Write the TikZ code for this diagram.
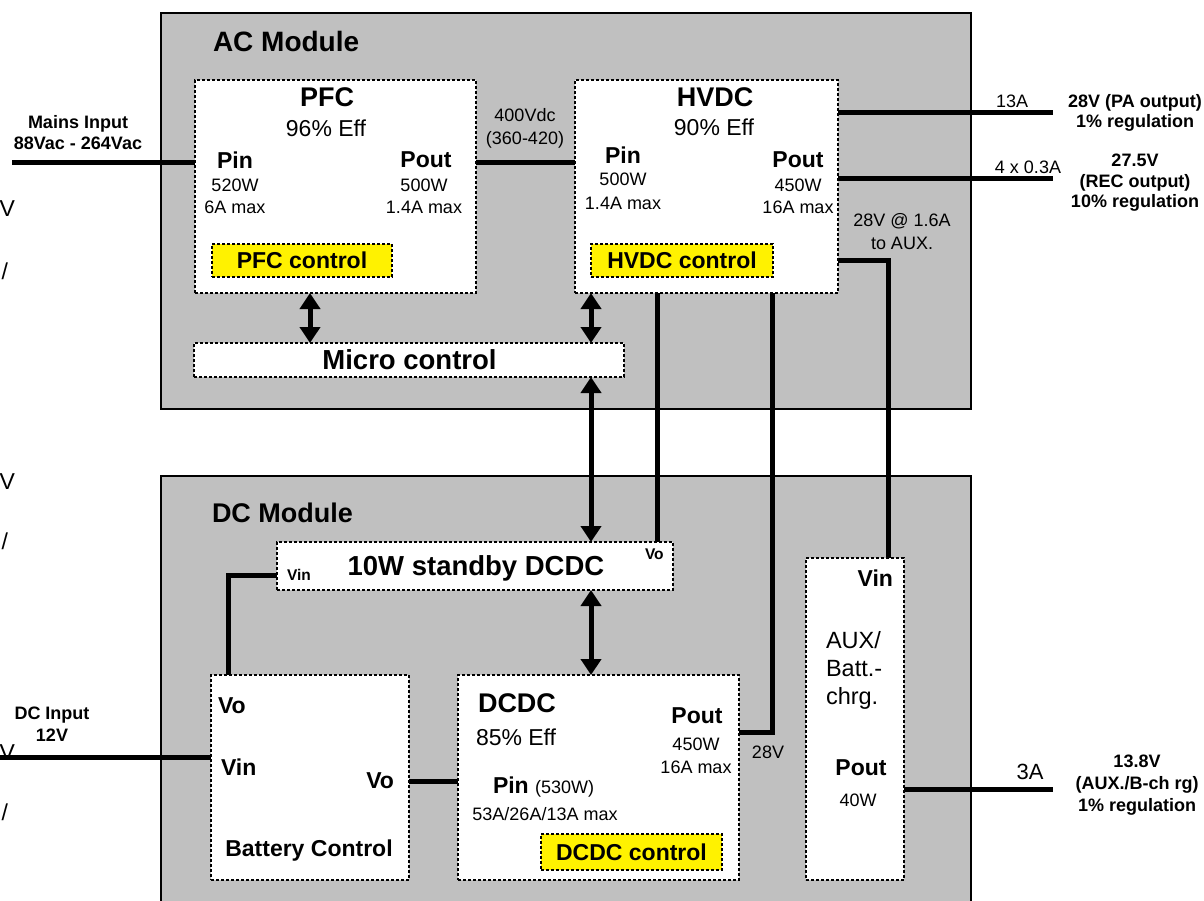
\documentclass[tikz,border=0pt]{standalone}
\usepackage{fontspec}
\setmainfont{Liberation Sans}
\usetikzlibrary{arrows.meta}
\definecolor{modgray}{RGB}{192,192,192}

\begin{document}
\begin{tikzpicture}[x=1pt, y=-1pt,
  every node/.style={inner sep=0pt, outer sep=0pt},
  modbox/.style={draw, line width=1.2pt, fill=modgray},
  unitbox/.style={draw, line width=1.3pt, dash pattern=on 3pt off 2pt, fill=white},
  ctrlbox/.style={unitbox, fill=yellow},
  wire/.style={line width=5pt},
  link/.style={line width=5pt, {Triangle[width=20pt,length=16pt]}-{Triangle[width=20pt,length=16pt]}},
  ttlfont/.style={font=\bfseries\fontsize{27}{32}\selectfont},
  bigfont/.style={font=\bfseries\fontsize{27.5}{32}\selectfont},
  efffont/.style={font=\fontsize{23}{27}\selectfont},
  portfont/.style={font=\bfseries\fontsize{23}{27}\selectfont},
  valfont/.style={font=\fontsize{18}{22}\selectfont, align=center},
  outfont/.style={font=\bfseries\fontsize{18}{21}\selectfont, align=center},
  smallport/.style={font=\bfseries\fontsize{15.5}{18}\selectfont}]
\useasboundingbox (0,0) rectangle (1204,900);

% modules
\node[modbox, minimum width=810pt, minimum height=396pt] (acmod) at (566,211) {};
\node[modbox, minimum width=810pt, minimum height=460pt] (dcmod) at (566,706) {};
\node[ttlfont, font=\bfseries\fontsize{28}{32}\selectfont, anchor=west] (aclbl) at (213,41) {AC Module};
\node[ttlfont, anchor=west] (dclbl) at (212,513) {DC Module};

% blocks
\node[unitbox, minimum width=281pt, minimum height=213pt] (pfc) at (335.5,186.5) {};
\node[unitbox, minimum width=263pt, minimum height=213pt] (hvdc) at (706.5,186.5) {};
\node[ctrlbox, minimum width=180pt, minimum height=33pt] (pfcctl) at (302,260.5) {};
\node[ctrlbox, minimum width=182pt, minimum height=33pt] (hvdcctl) at (682,260.5) {};
\node[unitbox, minimum width=430pt, minimum height=34pt] (micro) at (409,360) {};
\node[unitbox, minimum width=396pt, minimum height=48pt] (standby) at (475,566) {};
\node[unitbox, minimum width=198pt, minimum height=205pt] (battery) at (310,777.5) {};
\node[unitbox, minimum width=281pt, minimum height=205pt] (dcdc) at (598.5,777.5) {};
\node[ctrlbox, minimum width=181pt, minimum height=36pt] (dcdcctl) at (631.5,852) {};
\node[unitbox, minimum width=98pt, minimum height=322pt] (aux) at (855,719) {};

% wires
\coordinate (mainsin) at (12,162);
\coordinate (paout) at (1053,112);
\coordinate (recout) at (1053,178);
\coordinate (auxtap) at (888,260);
\coordinate (vox) at (657,300);
\coordinate (bend28) at (772,732);
\coordinate (vobat) at (430,781);
\coordinate (dcin) at (0,757);
\coordinate (vinbend) at (228,575);
\coordinate (auxout) at (1053,789);
\coordinate (lnka) at (310,300);
\coordinate (lnkb) at (591,300);

\draw[wire] (mainsin) -- (mainsin -| pfc.west);
\draw[wire] (mainsin -| pfc.east) -- (mainsin -| hvdc.west);
\draw[wire] (paout -| hvdc.east) -- (paout);
\draw[wire] (recout -| hvdc.east) -- (recout);
\draw[wire] (auxtap -| hvdc.east) -- (auxtap) -- (auxtap |- aux.north);
\draw[wire] (vox |- hvdc.south) -- (vox |- standby.north);
\draw[wire] (bend28 |- hvdc.south) -- (bend28) -- (bend28 -| dcdc.east);
\draw[wire] (vobat -| battery.east) -- (vobat -| dcdc.west);
\draw[wire] (dcin) -- (dcin -| battery.west);
\draw[wire] (vinbend |- battery.north) -- (vinbend) -- (vinbend -| standby.west);
\draw[wire] (auxout -| aux.east) -- (auxout);

\draw[link] (lnka |- pfc.south) -- (lnka |- micro.north);
\draw[link] (lnkb |- hvdc.south) -- (lnkb |- micro.north);
\draw[link] (lnkb |- micro.south) -- (lnkb |- standby.north);
\draw[link] (lnkb |- standby.south) -- (lnkb |- dcdc.north);

% PFC
\node[ttlfont] (pfcname) at (327,97) {PFC};
\node[efffont] (pfceff) at (326,128) {96\% Eff};
\node[portfont] (pfcpin) at (235,160) {Pin};
\node[valfont] (pfcpinw) at (235,185) {520W};
\node[valfont] (pfcpina) at (235,207) {6A max};
\node[portfont] (pfcpout) at (426,160) {Pout};
\node[valfont] (pfcpoutw) at (424,185) {500W};
\node[valfont] (pfcpouta) at (424,207) {1.4A max};
\node[portfont] (pfcctltxt) at (302,260.5) {PFC control};
\node[valfont, font=\fontsize{18}{23}\selectfont] (busv) at (525,128) {400Vdc\\(360-420)};

% HVDC
\node[ttlfont] (hvdcname) at (715,97) {HVDC};
\node[efffont] (hvdceff) at (714,127) {90\% Eff};
\node[portfont] (hvdcpin) at (623,155) {Pin};
\node[valfont] (hvdcpinw) at (623,179) {500W};
\node[valfont] (hvdcpina) at (623,203) {1.4A max};
\node[portfont] (hvdcpout) at (798,160) {Pout};
\node[valfont] (hvdcpoutw) at (798,185) {450W};
\node[valfont] (hvdcpouta) at (798,207) {16A max};
\node[portfont] (hvdcctltxt) at (682,260.5) {HVDC control};

\node[bigfont] (microtxt) at (409.5,360) {Micro control};

% outputs
\node[valfont] (paamp) at (1012,101) {13A};
\node[outfont, font=\bfseries\fontsize{18}{20}\selectfont] (patxt) at (1135,113) {28V (PA output)\\1\% regulation};
\node[valfont] (recamp) at (1028,167) {4 x 0.3A};
\node[outfont, font=\bfseries\fontsize{18}{20.5}\selectfont] (rectxt) at (1135,183) {27.5V\\(REC output)\\10\% regulation};
\node[valfont, font=\fontsize{18}{23}\selectfont] (auxfeed) at (902,231.5) {28V @ 1.6A\\to AUX.};
\node[outfont] (mainstxt) at (78,132.5) {Mains Input\\88Vac - 264Vac};
\node[outfont, font=\bfseries\fontsize{18}{22}\selectfont] (dcintxt) at (52,724) {DC Input\\12V};
\node[font=\fontsize{22}{26}\selectfont] (auxamp) at (1030,772) {3A};
\node[outfont, font=\bfseries\fontsize{18}{22}\selectfont] (auxtxt) at (1137,785) {13.8V\\(AUX./B-ch rg)\\1\% regulation};
\node[valfont] (dcdcv) at (768,752) {28V};

% standby
\node[bigfont] (standbytxt) at (476,568) {10W standby DCDC};
\node[smallport, anchor=west] (standbyvin) at (287,575) {Vin};
\node[smallport, anchor=west] (standbyvo) at (645,554) {Vo};

% battery
\node[portfont, anchor=west] (batvo) at (218,706) {Vo};
\node[portfont, anchor=west] (batvin) at (221,767) {Vin};
\node[portfont, anchor=east] (batvout) at (394,781) {Vo};
\node[portfont] (battxt) at (309,851) {Battery Control};

% DCDC
\node[ttlfont, anchor=west] (dcdcname) at (478,703) {DCDC};
\node[efffont, anchor=west] (dcdceff) at (476,737) {85\% Eff};
\node[portfont] (dcdcpout) at (697,716) {Pout};
\node[valfont] (dcdcpoutw) at (696,744) {450W};
\node[valfont] (dcdcpouta) at (696,767) {16A max};
\node[portfont, anchor=west] (dcdcpin) at (493,787) {Pin \normalfont\fontsize{18}{22}\selectfont(530W)};
\node[valfont] (dcdcpina) at (545,814) {53A/26A/13A max};
\node[portfont] (dcdcctltxt) at (631.5,852) {DCDC control};

% AUX
\node[portfont, anchor=east] (auxvin) at (893,578) {Vin};
\node[efffont, font=\fontsize{23.5}{28}\selectfont, anchor=west, align=left] (auxname) at (826,670) {AUX/\\Batt.-\\chrg.};
\node[portfont] (auxpout) at (861,768) {Pout};
\node[valfont] (auxpoutw) at (858,800) {40W};

% cut text at the left edge
\node[efffont, anchor=east] (edgea) at (15,209) {V};
\node[efffont, anchor=east] (edgeb) at (8,271) {/};
\node[efffont, anchor=east] (edgec) at (15,482) {V};
\node[efffont, anchor=east] (edged) at (8,541) {/};
\node[efffont, anchor=east] (edgee) at (15,753) {V};
\node[efffont, anchor=east] (edgef) at (8,812) {/};
\end{tikzpicture}
\end{document}
